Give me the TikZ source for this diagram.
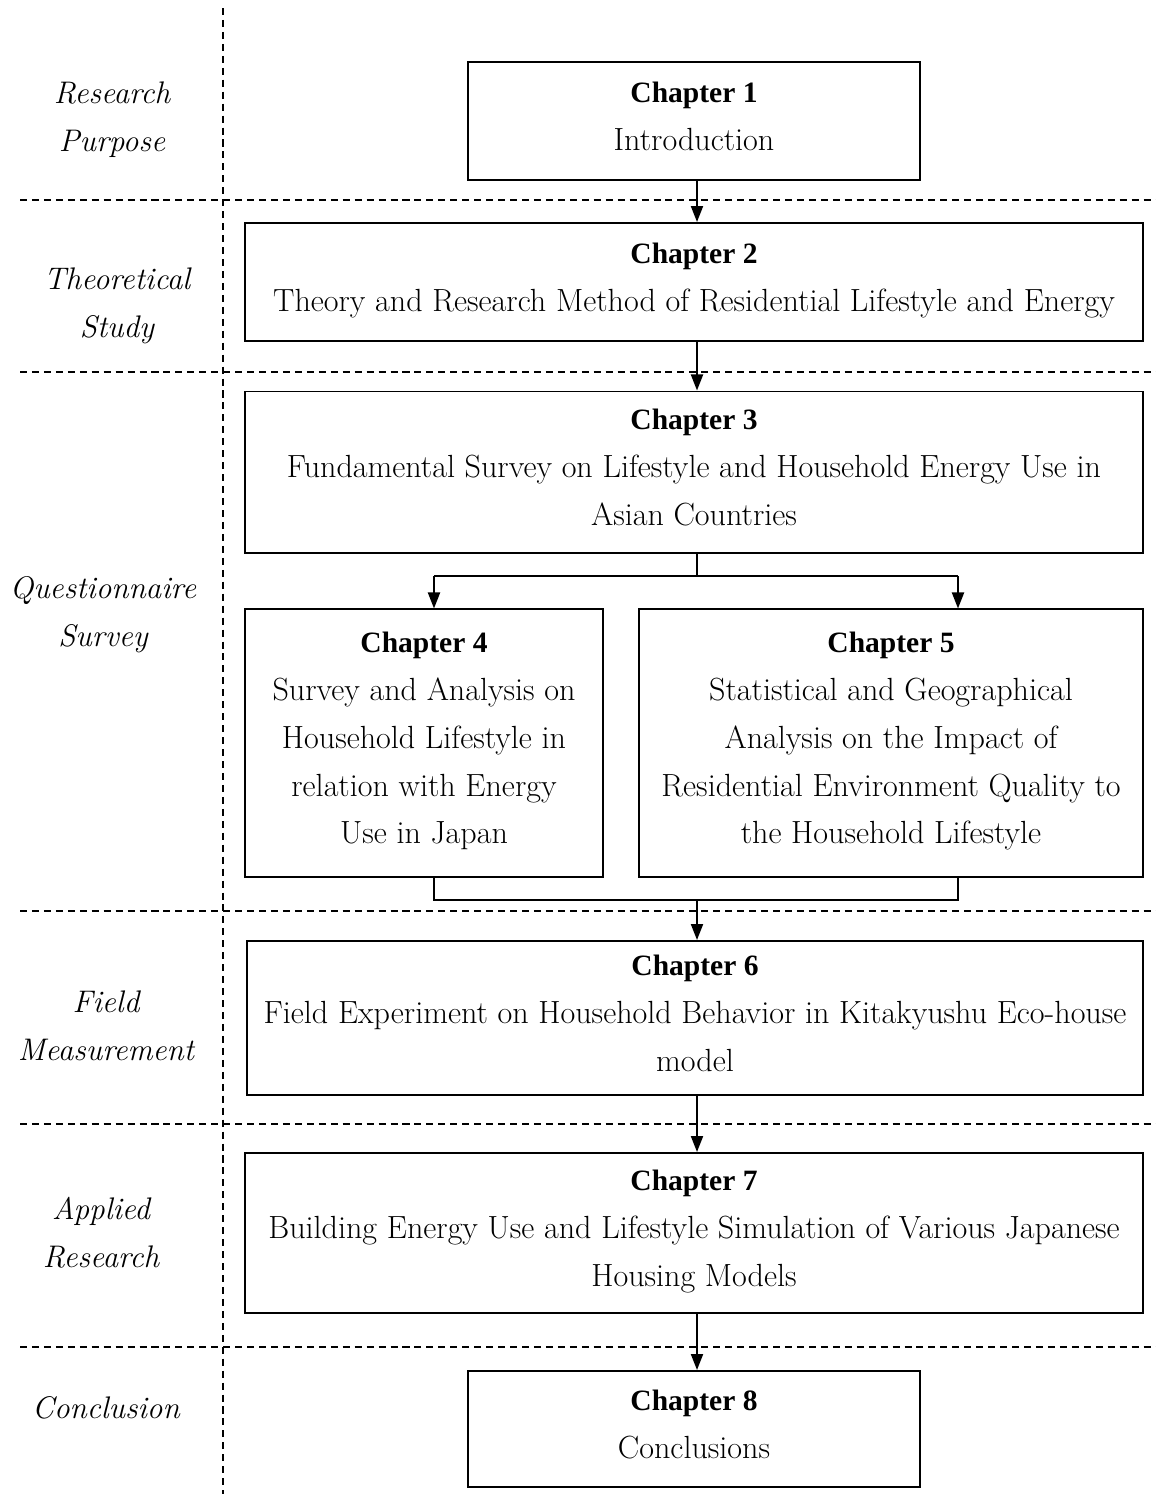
\documentclass[tikz,border=0pt]{standalone}
\usepackage{fontspec}
\usepackage{tikz}
\usetikzlibrary{arrows.meta,positioning}
\newfontfamily\chapfont{Liberation Serif}
\tikzstyle{arrow} = [line width=1.4pt,-{Stealth[length=0.4cm,width=0.3cm,inset=0pt]}]
\tikzstyle{link} = [line width=1.4pt]
\tikzstyle{sep} = [line width=1.1pt,dash pattern=on 5pt off 3.5pt]

\begin{document}
\begin{tikzpicture}[x=0.025cm, y=-0.025cm,
    chapter/.style={rectangle, draw, line width=1.4pt, inner sep=0pt, text depth=0.25cm, align=center, font={\fontsize{22.8pt}{34pt}\selectfont}},
    phase/.style={align=center, font={\fontsize{22.2pt}{34pt}\selectfont\itshape}}]

\useasboundingbox (0,0) rectangle (1156,1494);

% Separators
\draw[sep] (223,8) -- (223,1494);
\foreach \y in {200,372,911,1124,1347}
  \draw[sep] (20,\y) -- (1156,\y);

% Phases
\node[phase] (purpose) at (112,120) {Research\\Purpose};
\node[phase] (theory) at (117,306) {Theoretical\\Study};
\node[phase] (survey) at (103,615) {Questionnaire\\Survey};
\node[phase] (field) at (106,1026) {Field\\Measurement};
\node[phase] (applied) at (101,1233) {Applied\\Research};
\node[phase] (conclusion) at (106,1408) {Conclusion};

% Chapters
\node[chapter, minimum width=11.3cm, minimum height=2.95cm] (ch1) at (694,121)
  {{\chapfont\fontsize{21pt}{34pt}\selectfont\bfseries Chapter 1}\\Introduction};
\node[chapter, minimum width=22.45cm, minimum height=2.95cm] (ch2) at (694,282)
  {{\chapfont\fontsize{21pt}{34pt}\selectfont\bfseries Chapter 2}\\Theory and Research Method of Residential Lifestyle and Energy};
\node[chapter, minimum width=22.45cm, minimum height=4.025cm] (ch3) at (694,472)
  {{\chapfont\fontsize{21pt}{34pt}\selectfont\bfseries Chapter 3}\\Fundamental Survey on Lifestyle and Household Energy Use in\\Asian Countries};
\node[chapter, minimum width=8.95cm, minimum height=6.675cm] (ch4) at (424,743)
  {{\chapfont\fontsize{21pt}{34pt}\selectfont\bfseries Chapter 4}\\Survey and Analysis on\\Household Lifestyle in\\relation with Energy\\Use in Japan};
\node[chapter, minimum width=12.6cm, minimum height=6.675cm] (ch5) at (891,743)
  {{\chapfont\fontsize{21pt}{34pt}\selectfont\bfseries Chapter 5}\\Statistical and Geographical\\Analysis on the Impact of\\Residential Environment Quality to\\the Household Lifestyle};
\node[chapter, minimum width=22.4cm, minimum height=3.85cm] (ch6) at (695,1018)
  {{\chapfont\fontsize{21pt}{34pt}\selectfont\bfseries Chapter 6}\\Field Experiment on Household Behavior in Kitakyushu Eco-house\\model};
\node[chapter, minimum width=22.45cm, minimum height=4.0cm] (ch7) at (694,1233)
  {{\chapfont\fontsize{21pt}{34pt}\selectfont\bfseries Chapter 7}\\Building Energy Use and Lifestyle Simulation of Various Japanese\\Housing Models};
\node[chapter, minimum width=11.3cm, minimum height=2.9cm] (ch8) at (694,1429)
  {{\chapfont\fontsize{21pt}{34pt}\selectfont\bfseries Chapter 8}\\Conclusions};

% Branch points
\coordinate (split) at (697,576);
\coordinate (split4) at (434,576);
\coordinate (split5) at (958,576);
\coordinate (join) at (697,900);
\coordinate (join4) at (434,900);
\coordinate (join5) at (958,900);

% Flow
\draw[arrow] (ch1.south -| split) -- (ch2.north -| split);
\draw[arrow] (ch2.south -| split) -- (ch3.north -| split);
\draw[link] (ch3.south -| split) -- (split);
\draw[link] (split4) -- (split5);
\draw[arrow] (split4) -- (ch4.north -| split4);
\draw[arrow] (split5) -- (ch5.north -| split5);
\draw[link] (ch4.south -| join4) -- (join4) -- (join5) -- (ch5.south -| join5);
\draw[arrow] (join) -- (ch6.north -| join);
\draw[arrow] (ch6.south -| join) -- (ch7.north -| join);
\draw[arrow] (ch7.south -| join) -- (ch8.north -| join);

\end{tikzpicture}
\end{document}
